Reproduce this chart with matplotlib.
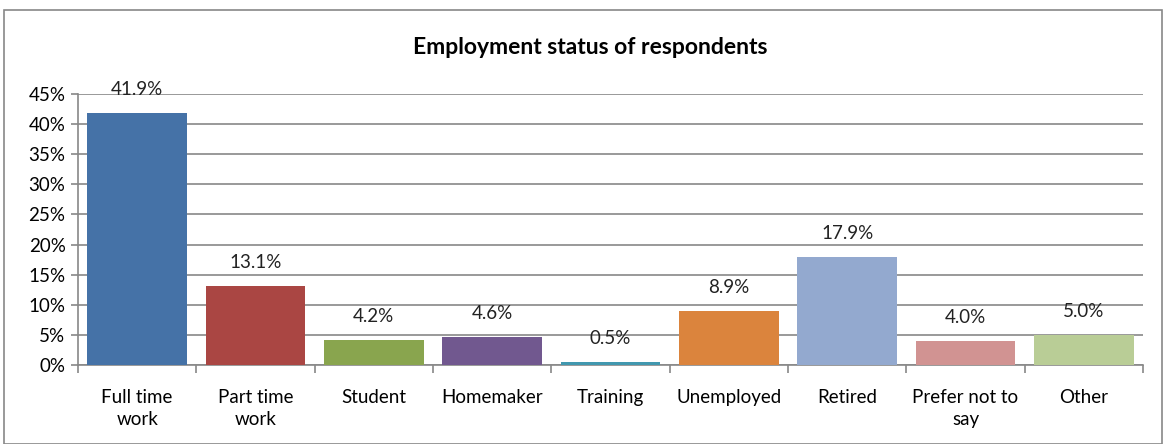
import matplotlib.pyplot as plt
from matplotlib.patches import Rectangle
from matplotlib.ticker import MultipleLocator, FuncFormatter

categories = ['Full time\nwork', 'Part time\nwork', 'Student', 'Homemaker', 'Training',
              'Unemployed', 'Retired', 'Prefer not to\nsay', 'Other']
values = [41.9, 13.1, 4.2, 4.6, 0.5, 8.9, 17.9, 4.0, 5.0]
colors = ['#4572A7', '#AA4643', '#89A54E', '#71588F', '#4198AF',
          '#DB843D', '#93A9CF', '#D19392', '#B9CD96']

plt.rcParams['font.family'] = ['Lato', 'DejaVu Sans']

fig = plt.figure(figsize=(11.64, 4.44), dpi=100)
ax = fig.add_axes([78 / 1164, 79 / 444, (1143 - 78) / 1164, (365 - 94) / 444])

x = list(range(len(categories)))
ax.bar(x, values, width=0.84, color=colors, zorder=3)
for xi, v in zip(x, values):
    ax.annotate(f'{v:.1f}%', (xi, v), xytext=(0, 17), textcoords='offset points',
                ha='center', va='center', fontsize=13.5, color='#222222')

ax.set_xlim(-0.5, len(categories) - 0.5)
ax.set_ylim(0, 45)
ax.yaxis.set_major_locator(MultipleLocator(5))
ax.yaxis.set_major_formatter(FuncFormatter(lambda v, p: f'{v:.0f}%'))
ax.grid(axis='y', color='#888888', linewidth=1.2, zorder=0)

ax.set_xticks(x)
ax.set_xticklabels(categories, fontsize=13.5, linespacing=1.4)
ax.set_xticks([i + 0.5 for i in range(-1, len(categories))], minor=True)
ax.tick_params(axis='x', which='major', length=0, pad=17)
ax.tick_params(axis='x', which='minor', length=6, width=1.2, color='#888888')
ax.tick_params(axis='y', length=5, width=1.2, color='#888888', labelsize=13.5, pad=4)

for side in ['top', 'right']:
    ax.spines[side].set_visible(False)
for side in ['left', 'bottom']:
    ax.spines[side].set_color('#888888')
    ax.spines[side].set_linewidth(1.2)

fig.text(590 / 1164, 1 - 47 / 444, 'Employment status of respondents',
         ha='center', va='center', fontsize=16.5, fontweight='bold')

# outer chart frame
fig.patches.append(Rectangle((4 / 1164, 0), 1158 / 1164, 1 - 10 / 444,
                             transform=fig.transFigure, fill=False,
                             edgecolor='#888888', linewidth=1.2))

fig.savefig('out.png', dpi=100)
